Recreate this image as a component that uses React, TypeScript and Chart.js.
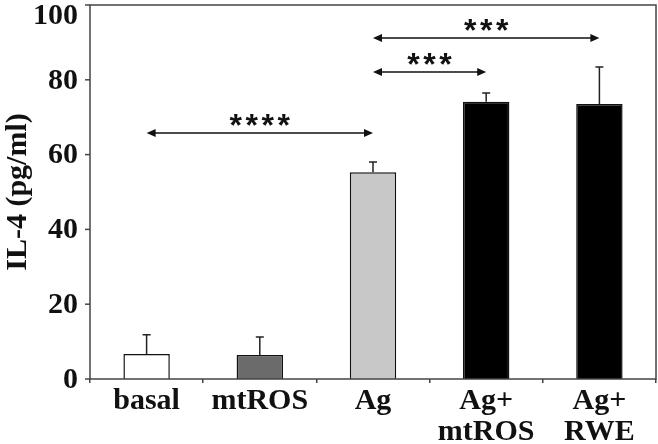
import React, { useEffect, useRef } from "react";
import { Chart, registerables } from "chart.js";
Chart.register(...registerables);

const categories = [["basal"], ["mtROS"], ["Ag"], ["Ag+", "mtROS"], ["Ag+", "RWE"]];
const values = [6.7, 6.4, 55.3, 74.1, 73.5];
const errors = [5.1, 4.8, 2.7, 2.4, 9.9];
const barColors = ["#ffffff", "#6b6b6b", "#c8c8c8", "#000000", "#000000"];
const yTicks = [0, 20, 40, 60, 80, 100];
const sigFrom = [0, 2, 2];
const sigTo = [2, 3, 4];
const sigLevel = [65.8, 82.1, 91.2];
const sigLabel = ["****", "***", "***"];

const SERIF = "'Liberation Serif', 'Times New Roman', serif";
const AXIS = "#444444";

const framePlugin = {
  id: "frame",
  afterDraw(chart: any) {
    const { ctx, chartArea: a } = chart;
    ctx.save();
    ctx.strokeStyle = AXIS;
    ctx.lineWidth = 1.5;
    ctx.strokeRect(a.left, a.top, a.right - a.left, a.bottom - a.top);
    ctx.restore();
  },
};

const yLabelPlugin = {
  id: "yLabels",
  afterDraw(chart: any) {
    const { ctx, chartArea: a } = chart;
    const ys = chart.scales.y;
    ctx.save();
    ctx.fillStyle = "#111";
    ctx.font = `bold 30px ${SERIF}`;
    ctx.textAlign = "right";
    ctx.textBaseline = "middle";
    yTicks.forEach((v) => {
      const py = ys.getPixelForValue(v);
      ctx.strokeStyle = AXIS;
      ctx.lineWidth = 1.5;
      ctx.beginPath();
      ctx.moveTo(a.left - 5, py);
      ctx.lineTo(a.left, py);
      ctx.stroke();
      ctx.fillText(String(v), a.left - 12, Math.max(py, a.top + 10) + 1);
    });
    ctx.restore();
  },
};

const errorPlugin = {
  id: "errorBars",
  afterDatasetsDraw(chart: any) {
    const { ctx } = chart;
    const ys = chart.scales.y;
    const meta = chart.getDatasetMeta(0);
    ctx.save();
    ctx.strokeStyle = "#222";
    ctx.lineWidth = 1.5;
    values.forEach((v, i) => {
      const x = meta.data[i].x;
      const y0 = ys.getPixelForValue(v);
      const y1 = ys.getPixelForValue(v + errors[i]);
      ctx.beginPath();
      ctx.moveTo(x, y0);
      ctx.lineTo(x, y1);
      ctx.moveTo(x - 4, y1);
      ctx.lineTo(x + 4, y1);
      ctx.stroke();
    });
    ctx.restore();
  },
};

const sigPlugin = {
  id: "sig",
  afterDraw(chart: any) {
    const { ctx } = chart;
    const ys = chart.scales.y;
    const meta = chart.getDatasetMeta(0);
    ctx.save();
    ctx.strokeStyle = "#111";
    ctx.fillStyle = "#111";
    ctx.lineWidth = 1.5;
    sigLevel.forEach((lvl, k) => {
      const x1 = meta.data[sigFrom[k]].x;
      const x2 = meta.data[sigTo[k]].x;
      const y = ys.getPixelForValue(lvl);
      ctx.beginPath();
      ctx.moveTo(x1 + 6, y);
      ctx.lineTo(x2 - 6, y);
      ctx.stroke();
      ctx.beginPath();
      ctx.moveTo(x1, y);
      ctx.lineTo(x1 + 9, y - 4);
      ctx.lineTo(x1 + 9, y + 4);
      ctx.closePath();
      ctx.fill();
      ctx.beginPath();
      ctx.moveTo(x2, y);
      ctx.lineTo(x2 - 9, y - 4);
      ctx.lineTo(x2 - 9, y + 4);
      ctx.closePath();
      ctx.fill();
      const stars = sigLabel[k];
      const n = stars.length;
      const sp = 16;
      const cx = (x1 + x2) / 2;
      ctx.font = `bold 32px 'Liberation Sans', Arial, sans-serif`;
      ctx.textAlign = "center";
      ctx.textBaseline = "alphabetic";
      for (let j = 0; j < n; j++) {
        const sx = cx + (j - (n - 1) / 2) * sp;
        ctx.fillText("*", sx, y + 3);
      }
    });
    ctx.restore();
  },
};

export default function App() {
  const ref = useRef<HTMLCanvasElement>(null);
  useEffect(() => {
    document.body.style.margin = "0";
    const chart = new Chart(ref.current!, {
      type: "bar",
      data: {
        labels: categories,
        datasets: [
          {
            data: values,
            backgroundColor: barColors,
            borderColor: "#111",
            borderWidth: 1.5,
            barPercentage: 0.41,
            categoryPercentage: 1,
          },
        ],
      },
      options: {
        animation: false,
        responsive: false,
        maintainAspectRatio: false,
        layout: { padding: { top: 5, right: 2, left: 0, bottom: 0 } },
        plugins: { legend: { display: false }, tooltip: { enabled: false } },
        scales: {
          x: {
            border: { display: false },
            grid: {
              display: true,
              drawOnChartArea: false,
              drawTicks: true,
              tickLength: 4,
              color: AXIS,
              lineWidth: 1.5,
              offset: true,
            },
            ticks: {
              color: "#111",
              font: { family: SERIF, size: 30, weight: "bold", lineHeight: 1.05 },
              padding: 2,
              maxRotation: 0,
              autoSkip: false,
            },
            afterFit(scale: any) {
              scale.height = 65;
            },
          },
          y: {
            min: 0,
            max: 100,
            border: { display: false },
            grid: { display: false },
            ticks: { display: false, stepSize: 20 },
            title: {
              display: true,
              text: "IL-4 (pg/ml)",
              color: "#111",
              font: { family: SERIF, size: 30, weight: "bold" },
              padding: { top: 0, bottom: 0 },
            },
            afterFit(scale: any) {
              scale.width = 90;
            },
          },
        },
      },
      plugins: [framePlugin, yLabelPlugin, errorPlugin, sigPlugin],
    });
    return () => chart.destroy();
  }, []);
  return <canvas ref={ref} width={658} height={444} style={{ display: "block" }} />;
}
